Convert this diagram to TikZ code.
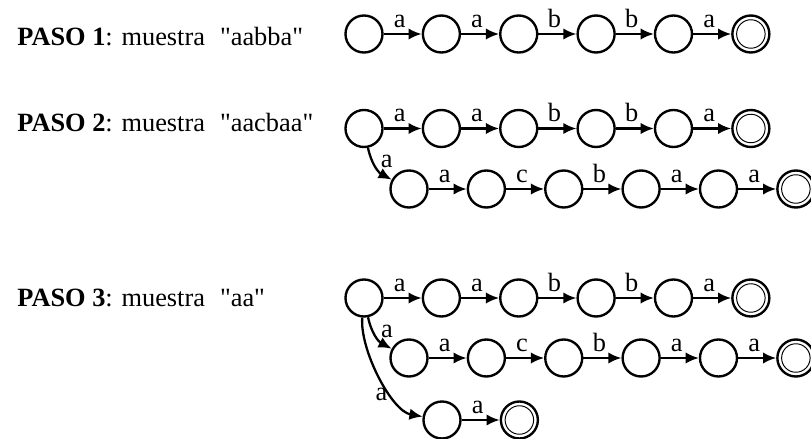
\documentclass[tikz,border=0pt]{standalone}
\usepackage{fontspec}
\setmainfont{Liberation Serif}
\usetikzlibrary{arrows.meta, positioning}

\tikzset{
  st/.style={circle, draw, line width=1.35pt, minimum size=0.74cm, inner sep=0pt},
  fin/.style={st, path picture={\draw[line width=0.55pt] (path picture bounding box.center) circle (0.285cm);}},
  tr/.style={-{Latex[length=7.5pt,width=6.5pt]}, line width=1.3pt},
  lab/.style={above, pos=0.42, inner sep=3pt},
  paso/.style={anchor=base west, inner sep=0pt}
}

\begin{document}
\begin{tikzpicture}[node distance=0.76cm, font=\fontsize{15}{18}\selectfont]
\useasboundingbox (0,0) rectangle (16.22,-8.78);

% paso 1
\node[paso] (t1) at (0.34,-0.91) {\textbf{PASO 1}: muestra\hspace{0.32em} \textquotedbl aabba\textquotedbl};
\node[st] (uno0) at (7.28,-0.68) {};
\foreach \prev/\cur/\sym/\sty in {uno0/uno1/a/st, uno1/uno2/a/st, uno2/uno3/b/st, uno3/uno4/b/st, uno4/uno5/a/fin}{
  \node[\sty, right=of \prev] (\cur) {};
  \draw[tr] (\prev) -- node[lab] {\sym} (\cur);
}

% paso 2
\node[paso] (t2) at (0.34,-2.64) {\textbf{PASO 2}: muestra\hspace{0.32em} \textquotedbl aacbaa\textquotedbl};
\node[st] (dos0) at (7.28,-2.57) {};
\foreach \prev/\cur/\sym/\sty in {dos0/dos1/a/st, dos1/dos2/a/st, dos2/dos3/b/st, dos3/dos4/b/st, dos4/dos5/a/fin}{
  \node[\sty, right=of \prev] (\cur) {};
  \draw[tr] (\prev) -- node[lab] {\sym} (\cur);
}
\node[st] (dosb0) at (8.18,-3.78) {};
\draw[tr] (dos0) to[bend right=25] node[pos=0.35, right, inner sep=4pt] {a} (dosb0);
\foreach \prev/\cur/\sym/\sty in {dosb0/dosb1/a/st, dosb1/dosb2/c/st, dosb2/dosb3/b/st, dosb3/dosb4/a/st, dosb4/dosb5/a/fin}{
  \node[\sty, right=of \prev] (\cur) {};
  \draw[tr] (\prev) -- node[lab] {\sym} (\cur);
}

% paso 3
\node[paso] (t3) at (0.34,-6.14) {\textbf{PASO 3}: muestra\hspace{0.32em} \textquotedbl aa\textquotedbl};
\node[st] (tres0) at (7.28,-5.96) {};
\foreach \prev/\cur/\sym/\sty in {tres0/tres1/a/st, tres1/tres2/a/st, tres2/tres3/b/st, tres3/tres4/b/st, tres4/tres5/a/fin}{
  \node[\sty, right=of \prev] (\cur) {};
  \draw[tr] (\prev) -- node[lab] {\sym} (\cur);
}
\node[st] (tresb0) at (8.18,-7.16) {};
\draw[tr] (tres0) to[bend right=25] node[pos=0.35, right, inner sep=4pt] {a} (tresb0);
\foreach \prev/\cur/\sym/\sty in {tresb0/tresb1/a/st, tresb1/tresb2/c/st, tresb2/tresb3/b/st, tresb3/tresb4/a/st, tresb4/tresb5/a/fin}{
  \node[\sty, right=of \prev] (\cur) {};
  \draw[tr] (\prev) -- node[lab] {\sym} (\cur);
}
\node[st] (tresc0) at (8.84,-8.40) {};
\node[fin, right=of tresc0] (tresc1) {};
\draw[tr] (tres0) to[out=-95, in=170, looseness=0.7] node[pos=0.66, left, inner sep=2pt] {a} (tresc0);
\draw[tr] (tresc0) -- node[lab] {a} (tresc1);
\end{tikzpicture}
\end{document}
